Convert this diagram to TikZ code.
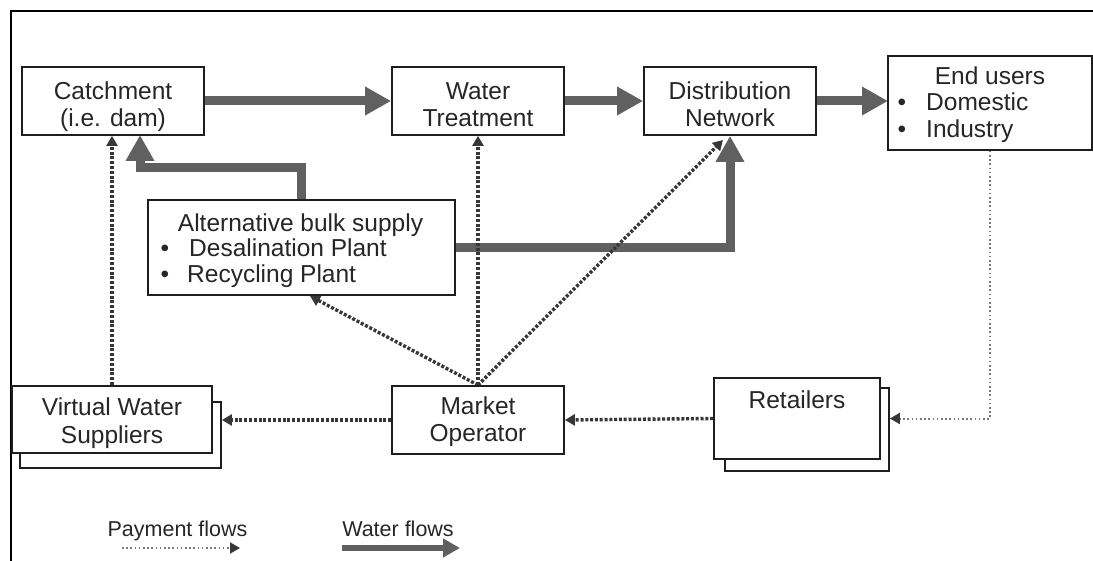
\documentclass[tikz,border=0pt]{standalone}
\usepackage{fontspec}
\setmainfont{Liberation Sans}
\usetikzlibrary{arrows.meta}
\pgfdeclarelayer{flows}
\pgfsetlayers{flows,main}
\definecolor{flowgray}{RGB}{96,96,96}
\definecolor{paydark}{RGB}{55,55,55}
\definecolor{paylight}{RGB}{120,120,120}
\definecolor{boxline}{RGB}{30,30,30}
\begin{document}
\begin{tikzpicture}[x=1pt,y=-1pt,
  box/.style={draw=boxline, line width=1.8pt, fill=white, inner sep=0pt},
  txt/.style={font=\fontsize{24.5}{27}\selectfont, inner sep=0pt, anchor=base, text=black!85},
  legtxt/.style={font=\fontsize{21.5}{24}\selectfont, inner sep=0pt, anchor=base, text=black!85},
  water/.style={draw=flowgray, line width=9pt, -{Triangle[length=26pt,width=27pt]}},
  pay/.style={draw=paydark, line width=3.4pt, dash pattern=on 3pt off 1.8pt,
    -{Triangle[length=10pt,width=11pt]}},
  paythin/.style={draw=paylight, line width=2pt, dash pattern=on 1.6pt off 2.6pt,
    -{Triangle[length=10pt,width=11pt,color=paydark]}}]

\useasboundingbox (0,0) rectangle (1093,561);
\begin{pgfonlayer}{flows}
\fill[white] (0,0) rectangle (1093,561);
\end{pgfonlayer}

% outer frame (left and top edges)
\draw[line width=2.6pt, black] (11,561) -- (11,11) -- (1093,11);

% upper row
\node[box, minimum width=182pt, minimum height=68pt] (catch) at (113,101) {};
\node[box, minimum width=172pt, minimum height=68pt] (wt)    at (478,101) {};
\node[box, minimum width=172pt, minimum height=68pt] (dist)  at (730,101) {};
\node[box, minimum width=204pt, minimum height=94pt] (eu)    at (990,103) {};

\node[txt] (catchA) at (113,100) {Catchment};
\node[txt] (catchB) at (113,127) {(i.e. dam)};
\node[txt] (wtA) at (478,100) {Water};
\node[txt] (wtB) at (478,127) {Treatment};
\node[txt] (distA) at (730,100) {Distribution};
\node[txt] (distB) at (730,127) {Network};
\node[txt] (euA) at (990,85) {End users};
\node[txt] (euB1) at (902,111) {\textbullet};
\node[txt, anchor=base west] (euB) at (926,111) {Domestic};
\node[txt] (euC1) at (902,138) {\textbullet};
\node[txt, anchor=base west] (euC) at (926,138) {Industry};

% alternative bulk supply
\node[box, minimum width=307pt, minimum height=95pt] (alt) at (301.5,247.5) {};
\node[txt] (altA) at (300.5,232) {Alternative bulk supply};
\node[txt] (altB1) at (165,257) {\textbullet};
\node[txt, anchor=base west] (altB) at (189,257) {Desalination Plant};
\node[txt] (altC1) at (165,283) {\textbullet};
\node[txt, anchor=base west] (altC) at (187,283) {Recycling Plant};

% lower row
\node[box, minimum width=201pt, minimum height=66pt] (vwsh) at (120.5,435) {};
\node[box, minimum width=200pt, minimum height=67pt] (vw)   at (112,419.5) {};
\node[txt] (vwA) at (112,416) {Virtual Water};
\node[txt] (vwB) at (112,443) {Suppliers};

\node[box, minimum width=172pt, minimum height=68pt] (mo) at (478,420) {};
\node[txt] (moA) at (478,414) {Market};
\node[txt] (moB) at (478,441) {Operator};

\node[box, minimum width=164pt, minimum height=83pt] (retsh) at (807,429.5) {};
\node[box, minimum width=166pt, minimum height=81pt] (ret)   at (797,418.5) {};
\node[txt] (retA) at (797,408) {Retailers};

% arrow ends on box edges
\coordinate (catchin) at (140,135);
\coordinate (distin) at (723,140);
\coordinate (altin) at (310,296);
\coordinate (euin) at (888,101);

\begin{pgfonlayer}{flows}
% water flows
\draw[water] (catch.east) -- (wt.west);
\draw[water] (wt.east) -- (dist.west);
\draw[water] (dist.east) -- (euin);
\draw[water] (alt.north) -- (alt.north |- 0,168) -| (catchin);
\draw[water] (alt.east) -| (dist.south);

% payment flows
\draw[pay] (vw.north) -- (vw.north |- catch.south);
\draw[pay] (mo.north) -- (wt.south);
\draw[pay] (mo.north) -- (distin);
\draw[pay] (mo.north) -- (altin);
\draw[pay] (mo.west) -- (mo.west -| vwsh.east);
\draw[pay] (ret.west) -- (mo.east);
\draw[paythin] (eu.south) |- (retsh.east |- ret.west);
\end{pgfonlayer}

% legend
\node[legtxt] (paylbl) at (177.5,536) {Payment flows};
\node[legtxt] (watlbl) at (398,536) {Water flows};
\coordinate (payA) at (122,548);
\coordinate (payB) at (240,548);
\coordinate (watA) at (342,548);
\coordinate (watB) at (460,548);
\draw[paythin, line width=1.8pt] (payA) -- (payB);
\draw[draw=flowgray, line width=6.5pt, -{Triangle[length=17pt,width=18pt]}] (watA) -- (watB);
\end{tikzpicture}
\end{document}
